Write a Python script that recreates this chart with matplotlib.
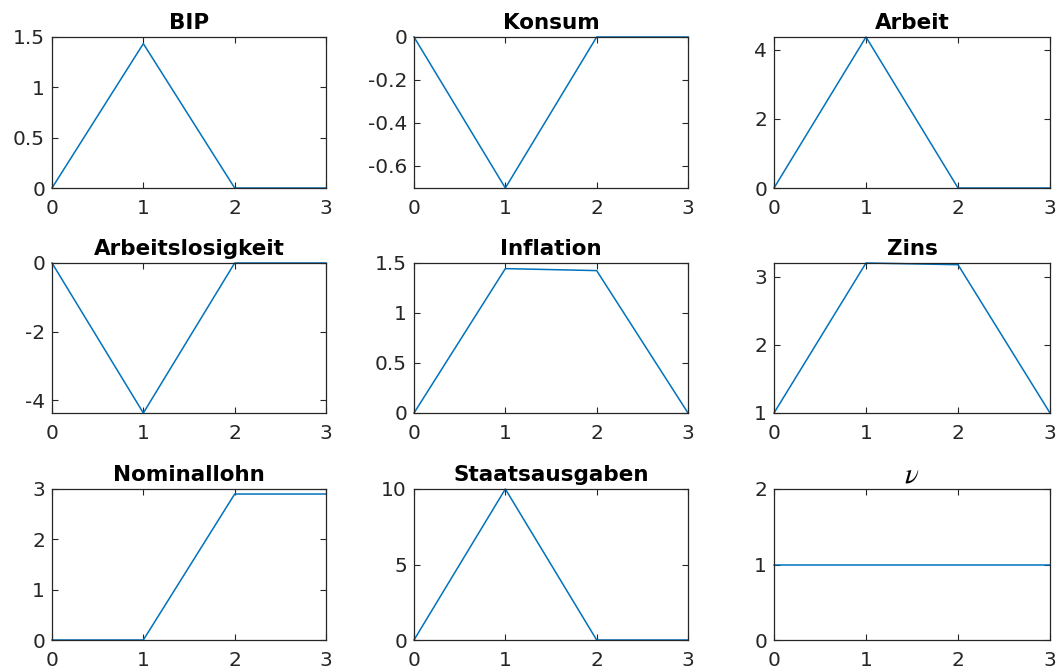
import matplotlib
matplotlib.use("Agg")
import matplotlib.pyplot as plt

plt.rcParams['font.family'] = ['DejaVu Sans']
plt.rcParams['mathtext.fontset'] = 'stix'

# Impulse responses over periods 0..3
periods = [0, 1, 2, 3]
titles = ["BIP", "Konsum", "Arbeit",
          "Arbeitslosigkeit", "Inflation", "Zins",
          "Nominallohn", "Staatsausgaben", r"$\nu$"]
bip = [0, 1.434, 0, 0]
konsum = [0, -0.705, 0, 0]
arbeit = [0, 4.37, 0, 0]
arbeitslosigkeit = [0, -4.37, 0, 0]
inflation = [0, 1.444, 1.424, 0]
zins = [1, 3.205, 3.18, 1]
nominallohn = [0, 0, 2.9, 2.9]
staatsausgaben = [0, 10, 0, 0]
nu = [1, 1, 1, 1]
series = [bip, konsum, arbeit, arbeitslosigkeit, inflation, zins,
          nominallohn, staatsausgaben, nu]

# y-axis limits and ticks per panel
ylims = [(0, 1.5), (min(konsum), 0), (0, max(arbeit)),
         (min(arbeitslosigkeit), 0), (0, 1.5), (1, max(zins)),
         (0, 3), (0, 10), (0, 2)]
yticks = [[0, 0.5, 1, 1.5], [-0.6, -0.4, -0.2, 0], [0, 2, 4],
          [-4, -2, 0], [0, 0.5, 1, 1.5], [1, 2, 3],
          [0, 1, 2, 3], [0, 5, 10], [0, 1, 2]]

W, H = 1057, 670
fig = plt.figure(figsize=(W / 100, H / 100), dpi=100)

col_x = [(52, 326), (414, 688), (774, 1050)]
row_y = [(37, 188), (263, 413), (489, 640)]

axis_color = '#262626'
line_color = '#0072BD'

for i, (title, y) in enumerate(zip(titles, series)):
    r, c = divmod(i, 3)
    x0, x1 = col_x[c]
    y0, y1 = row_y[r]
    ax = fig.add_axes([x0 / W, 1 - y1 / H, (x1 - x0) / W, (y1 - y0) / H])
    ax.plot(periods, y, color=line_color, lw=1.1, clip_on=False)
    ax.set_xlim(0, 3)
    ax.set_xticks(periods)
    ax.set_ylim(*ylims[i])
    ax.set_yticks(yticks[i])
    ax.set_yticklabels([f"{v:g}" for v in yticks[i]])
    ax.tick_params(direction='in', top=True, right=True, length=4,
                   width=0.8, colors=axis_color, labelsize=14.5,
                   labelcolor=axis_color)
    ax.tick_params(axis='x', pad=8)
    ax.tick_params(axis='y', pad=5)
    for s in ax.spines.values():
        s.set_color(axis_color)
        s.set_linewidth(0.9)
    if title.startswith('$'):
        ax.set_title(title, fontsize=21, pad=5)
    else:
        ax.set_title(title, fontsize=15.5, fontweight='bold', pad=6)

fig.savefig("out.png", dpi=100)
